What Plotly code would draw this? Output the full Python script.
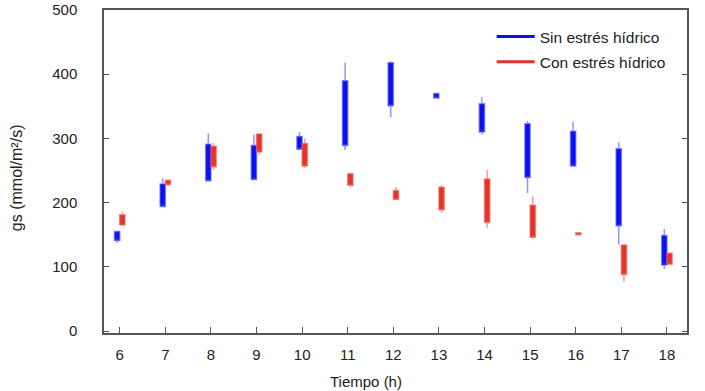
import plotly.graph_objects as go

hours = [6, 7, 8, 9, 10, 11, 12, 13, 14, 15, 16, 17, 18]

# Sin estrés hídrico (blue)
sin_low = [137, 194, 234, 236, 283, 282, 333, 363, 306, 215, 257, 135, 97]
sin_q1 = [141, 194, 234, 236, 283, 289, 351, 363, 310, 239, 257, 164, 103]
sin_q3 = [155, 229, 291, 289, 303, 390, 418, 370, 354, 323, 311, 284, 149]
sin_high = [155, 238, 308, 306, 310, 418, 420, 370, 364, 327, 326, 294, 159]

# Con estrés hídrico (red)
con_low = [165, 228, 251, 274, 254, 224, 205, 184, 161, 146, 150, 77, 104]
con_q1 = [165, 228, 256, 279, 257, 227, 205, 189, 169, 146, 150, 88, 104]
con_q3 = [181, 235, 288, 307, 292, 245, 219, 224, 237, 196, 153, 134, 121]
con_high = [186, 235, 293, 307, 300, 245, 224, 228, 251, 210, 153, 134, 123]

y_ticks = [0, 100, 200, 300, 400, 500]
names = ["Sin estrés hídrico", "Con estrés hídrico"]

BLUE = "#0a10f2"
BLUE_L = "rgba(70,80,245,0.6)"
RED = "#e6332a"
RED_L = "rgba(235,90,80,0.6)"
FONT = "Liberation Sans, Arial, sans-serif"

fig = go.Figure()
fig.add_trace(go.Box(
    x=hours, q1=sin_q1, median=sin_q1, q3=sin_q3,
    lowerfence=sin_low, upperfence=sin_high,
    fillcolor=BLUE, line=dict(color=BLUE_L, width=1.5),
    whiskerwidth=0, boxpoints=False, showlegend=False, name=names[0]))
fig.add_trace(go.Box(
    x=hours, q1=con_q1, median=con_q1, q3=con_q3,
    lowerfence=con_low, upperfence=con_high,
    fillcolor=RED, line=dict(color=RED_L, width=1.5),
    whiskerwidth=0, boxpoints=False, showlegend=False, name=names[1]))

# legend entries drawn as lines
fig.add_trace(go.Scatter(x=[None], y=[None], mode="lines", name=names[0],
                         line=dict(color=BLUE, width=3), legendgroup="a"))
fig.add_trace(go.Scatter(x=[None], y=[None], mode="lines", name=names[1],
                         line=dict(color=RED, width=3), legendgroup="b"))

axis_col = "#555555"
fig.update_layout(
    width=705, height=391,
    margin=dict(l=104, r=18, t=10, b=58, autoexpand=False),
    paper_bgcolor="white", plot_bgcolor="white",
    boxmode="group", boxgap=0.77, boxgroupgap=0.0,
    font=dict(family=FONT, size=15, color="#222222"),
    legend=dict(x=0.665, y=0.969, xanchor="left", yanchor="top",
                bgcolor="rgba(0,0,0,0)", borderwidth=0, itemwidth=38,
                font=dict(family=FONT, size=15.5, color="#222222"),
                tracegroupgap=2, traceorder="grouped"),
    xaxis=dict(range=[5.655, 18.44], tickmode="array", tickvals=hours,
               ticktext=[str(h) for h in hours], automargin=False,
               ticks="inside", ticklen=6, tickwidth=1, tickcolor=axis_col,
               showline=True, linecolor=axis_col, linewidth=1.5, mirror=True,
               showgrid=False, zeroline=False, ticklabelstandoff=7),
    yaxis=dict(range=[-3, 500], tickmode="array", tickvals=y_ticks,
               automargin=False,
               ticks="inside", ticklen=5, tickwidth=1, tickcolor=axis_col,
               showline=True, linecolor=axis_col, linewidth=1.5, mirror="ticks",
               showgrid=False, zeroline=False, ticklabelstandoff=22),
    annotations=[
        dict(text="Tiempo (h)", x=0.449, y=-0.149, xref="paper", yref="paper",
             xanchor="center", yanchor="middle", showarrow=False,
             font=dict(family=FONT, size=15, color="#222222")),
        dict(text="gs (mmol/m²/s)", x=-0.15, y=0.481, xref="paper", yref="paper",
             xanchor="center", yanchor="middle", textangle=-90, showarrow=False,
             font=dict(family=FONT, size=16, color="#222222")),
    ],
)

fig.write_html("out.html", config={"displayModeBar": False},
               post_script="document.body.style.margin='0px';")
